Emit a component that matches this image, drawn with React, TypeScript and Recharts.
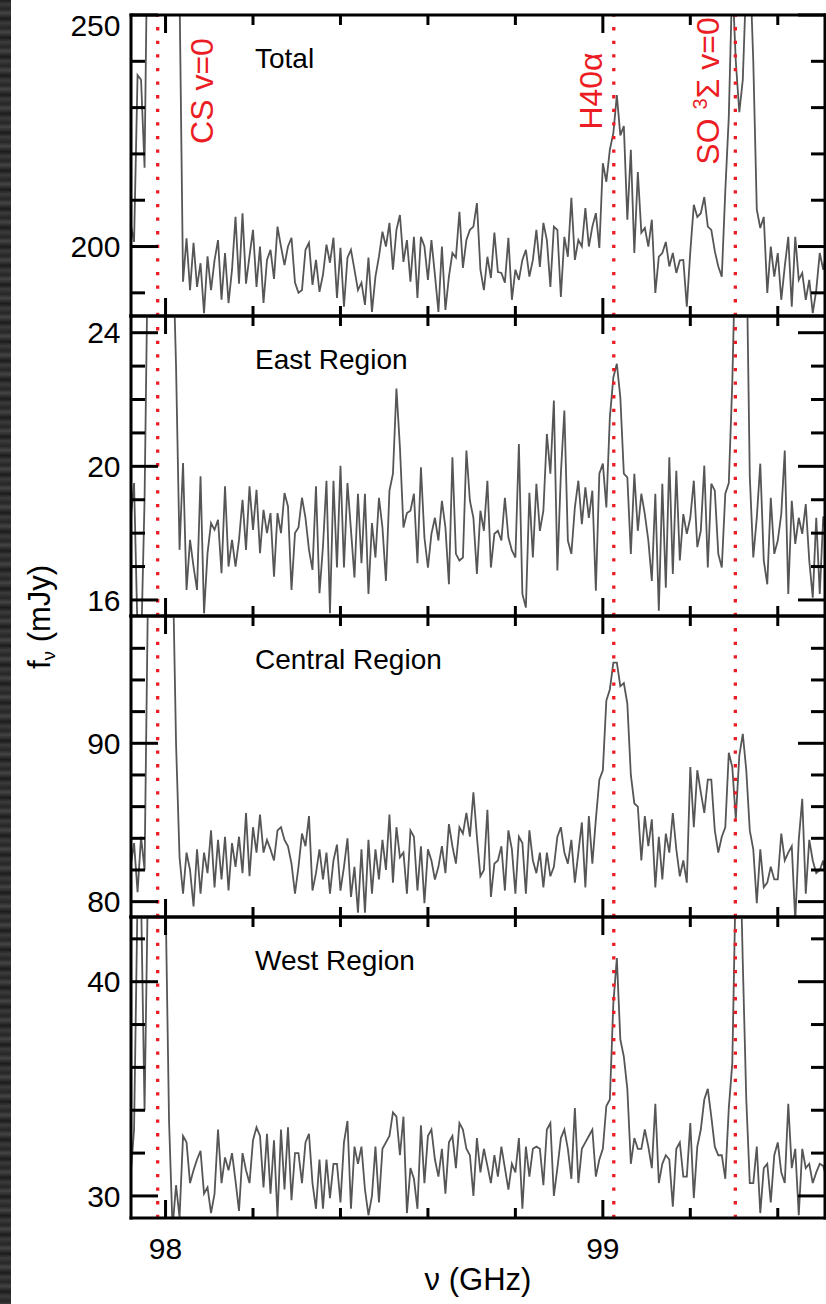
import React from 'react';
import { LineChart, Line, XAxis, YAxis, ReferenceLine } from 'recharts';

// Spectral channel grid (GHz)
const CHANNEL_START = 97.92;
const CHANNEL_WIDTH = 0.008;

// Flux density per channel (mJy)
const TOTAL = [
  205, 201, 237, 236, 217, 280, 300, 320, 330, 320,
  300, 290, 280, 265, 255, 192.4, 201.8, 190.6, 200.8, 191.3,
  196.4, 185.6, 197.9, 190.6, 197, 201.4, 188.5, 198.6, 187.8, 195,
  206.4, 192, 207.2, 192, 198, 203.6, 191.3, 200, 187.8, 197.1,
  199.3, 193, 204.3, 200, 196, 200, 201.9, 192.2, 190, 190.6,
  199.3, 200.8, 191.7, 197.1, 190.2, 193.9, 200.4, 196.5, 201.9, 188.9,
  199.7, 187, 197.6, 199.3, 195, 190.6, 192.2, 187.4, 197.6, 185.9,
  193.5, 197.8, 203.2, 200, 205.1, 195, 203.6, 206.8, 196.7, 201.4,
  192.4, 202.1, 188.9, 202.1, 200, 192.8, 201.4, 193.9, 185.9, 200,
  186.3, 193.5, 198.6, 197.6, 207.5, 195.4, 201.4, 203.6, 204.3, 209.4,
  195, 190.6, 197.8, 193.2, 203, 194.5, 194.3, 192.2, 201.9, 188.5,
  195, 192.8, 197.1, 199.3, 193.5, 197.1, 203.6, 195.6, 205.1, 201.4,
  191.3, 204.3, 203.6, 189.1, 202.1, 197.8, 210.5, 197.1, 201.4, 200,
  208.3, 200, 204.3, 207.2, 199.7, 218, 214, 220.9, 224.5, 232.7,
  224, 226, 205.8, 220.9, 198.6, 216.1, 203, 204, 200, 205.8,
  190, 197.8, 198.6, 201, 195.7, 198.6, 194.3, 197, 197.1, 187,
  198.9, 209, 206.4, 207.2, 210.7, 204.3, 203.6, 199, 195.7, 193.5,
  212, 228, 258, 240, 229, 236, 258, 262, 240, 208,
  204, 206.4, 190, 200, 193.5, 198.6, 188.5, 195.7, 202.1, 187,
  202.1, 192.8, 194.3, 188.5, 192.8, 185.6, 190.6, 198.6, 195, 199.3,
];

const EAST = [
  18.4, 19.5, 15.0, 14.5, 19, 27, 30, 32, 33, 32,
  30, 28, 27, 23, 17.5, 20.1, 16.3, 17.8, 17, 16.3,
  19.7, 15.6, 17.4, 18.3, 18.1, 18.4, 16.8, 19.4, 17, 17.8,
  17, 17.8, 19, 17.5, 19.4, 18.1, 19.3, 17.4, 18.7, 18,
  18.6, 16.7, 18.6, 18, 19.2, 18.8, 16.3, 18, 18.17, 19.06,
  18.46, 17.5, 16.9, 19.4, 16.2, 17.6, 19.57, 15.6, 19.57, 16.97,
  20.02, 16.97, 19.5, 18.1, 16.67, 19.18, 17.1, 19.18, 16.18, 18.3,
  17.27, 19.06, 18.17, 16.57, 19.27, 19.78, 22.33, 20.56, 18.17, 18.6,
  18.67, 19.18, 17.1, 19.97, 17.87, 16.97, 17.98, 18.46, 17.78, 18.97,
  18.17, 16.47, 20.27, 17.38, 17.18, 17.27, 20.47, 18.97, 18.46, 16.78,
  18.67, 18.07, 19.57, 16.97, 17.98, 18.07, 17.78, 19.06, 17.87, 17.48,
  17.27, 20.67, 16.18, 15.77, 19.21, 17.27, 19.48, 18.07, 18.67, 20.97,
  19.78, 21.97, 16.88, 19.78, 21.67, 17.78, 17.38, 18.77, 19.57, 18.27,
  19.37, 18.46, 19.27, 16.28, 19.78, 20.08, 18.77, 21.46, 22.66, 23.07,
  22.06, 19.78, 19.67, 17.38, 19.78, 18.07, 19.18, 18.57, 17.78, 16.57,
  19.18, 15.68, 19.48, 16.37, 20.27, 16.78, 19.87, 17.18, 18.57, 17.98,
  18.46, 19.57, 17.58, 18.07, 20.02, 16.97, 19.48, 19.27, 17.38, 16.97,
  19.18, 19.5, 22.5, 27, 30, 30, 27, 19.7, 17.27, 18.46,
  20.08, 17.18, 16.47, 19.06, 17.38, 17.78, 18.57, 20.47, 16.18, 18.97,
  17.68, 18.46, 17.98, 18.87, 17.18, 16.07, 18.46, 16.18, 18.5, 17.8,
];

const CENTRAL = [
  82.2, 83.7, 80.6, 84.1, 82, 100, 105, 108, 110, 108,
  106, 104, 102, 90, 82.8, 80.5, 83.1, 82, 79.7, 83.3,
  80.5, 83.1, 81.8, 84.5, 80.9, 83.9, 81.4, 84.1, 80.7, 83.7,
  82.2, 84.1, 81.8, 85.6, 81.6, 84.7, 83.1, 85.5, 83.1, 83.9,
  83.3, 82.6, 84.5, 84.7, 83.9, 83.5, 82.4, 80.5, 82.2, 84.3,
  83.5, 85.4, 80.7, 81.8, 83.3, 81.4, 83.1, 80.5, 82.6, 83.6,
  80.7, 82.2, 84, 80.3, 82.2, 79.3, 83.3, 79.3, 83.9, 80.5,
  83.3, 81.4, 83.9, 82, 85.5, 81.2, 84.7, 82.8, 83.1, 80.5,
  84.5, 84.1, 80.7, 83.5, 79.9, 83.3, 82.6, 81.4, 82.2, 83.5,
  81.8, 84.9, 83.5, 82.4, 84.7, 84.3, 85.6, 84.1, 86.9, 84.1,
  81.6, 82, 85.8, 80.3, 82.4, 82.6, 83.5, 80.7, 84.5, 83.3,
  80.5, 84.1, 83.7, 80.5, 84.5, 82.6, 81.8, 83.1, 80.9, 83.1,
  81.6, 82.2, 84.1, 84.7, 83.1, 82.4, 83.9, 81.2, 83.1, 85,
  80.9, 85.4, 82.4, 85.2, 87.7, 88.3, 92.7, 93.4, 95.1, 95.1,
  93.6, 93.8, 92.5, 88, 86.2, 86, 82.6, 85.4, 83.5, 85.2,
  80.9, 84.1, 81.4, 84.3, 83.1, 85.6, 83.3, 81.6, 82.6, 81.2,
  88.5, 84.7, 88.3, 86.9, 85.6, 87.7, 87.7, 84.5, 83.1, 84.1,
  84.7, 89.4, 88.5, 85.2, 89.2, 90.6, 88.3, 84.5, 83.3, 79.9,
  83.3, 80.9, 81.2, 82.2, 81.4, 81.4, 84.3, 82.6, 83.1, 83.5,
  78.8, 83.9, 86.5, 80.5, 83.9, 82.6, 81.8, 82, 82.6, 81,
];

const WEST = [
  30.9, 33.1, 44, 44, 34, 45, 50, 52, 52, 50,
  44, 33.5, 28.5, 30.5, 29, 32.8, 32.5, 30.6, 31.2, 31.7,
  32.1, 30.1, 30.4, 29.2, 30.1, 33.1, 30.6, 31.8, 31.2, 32,
  30.7, 29.3, 32, 31.2, 30.6, 32.6, 33.2, 32.8, 30.4, 32.9,
  30.1, 32.6, 29, 33.1, 30.3, 33.2, 29.8, 32, 32, 30.6,
  32.5, 32.9, 30.6, 29.4, 31.7, 29.4, 31.7, 29.9, 31.5, 31.5,
  29.7, 32.5, 33.5, 29.4, 32.3, 31.5, 32.3, 30.3, 29.1, 30,
  32.3, 29.7, 32.2, 32.5, 32.8, 33.9, 33.7, 31.9, 33.7, 29.2,
  31.3, 30.8, 29.4, 33.3, 30.6, 32.8, 33.1, 31.7, 30.9, 32.2,
  30.1, 32.5, 32.8, 31.3, 33.4, 33.1, 32.2, 31.9, 30, 32.7,
  31.1, 32.2, 31.4, 30.6, 31.9, 30.9, 32.3, 31.3, 30.3, 31.5,
  31.1, 32.7, 29.4, 32.3, 30.9, 32.2, 32.3, 32.2, 30.5, 33.1,
  33.4, 30, 31.3, 32.7, 33.1, 32.2, 30.8, 34.1, 30.6, 32.2,
  32.5, 32.8, 33.1, 30.9, 31.7, 32.2, 34.2, 34.5, 39, 41.1,
  37.3, 36.5, 35, 31.5, 32.7, 32.2, 32.2, 33.1, 32.3, 31.3,
  34.3, 30.6, 31.5, 31.9, 31.7, 29.5, 32.2, 32.5, 30.9, 30.9,
  33.4, 29.9, 32.3, 33.1, 34.5, 35, 33.7, 32.3, 31.9, 31.9,
  30.8, 34.1, 36.2, 45, 48, 40.9, 34.5, 30.6, 30.6, 32.3,
  29.2, 31.3, 31.5, 29.7, 31.9, 32.5, 31.1, 30.6, 34.3, 31.3,
  32.2, 29.1, 32.2, 31.3, 31.5, 30.6, 31.1, 31.5, 31.4, 30.8,
];

const FREQ = TOTAL.map((_, i) => +(CHANNEL_START + i * CHANNEL_WIDTH).toFixed(3));

const X_DOMAIN: [number, number] = [97.921, 99.508];
const X_MAJOR = [98, 99];
const X_MINOR = [98.2, 98.4, 98.6, 98.8, 99.2, 99.4];
const X_TICKS = [...X_MAJOR, ...X_MINOR].sort((a, b) => a - b);

// Line identifications (GHz)
const LINE_FREQS = [97.982, 99.025, 99.303];
const LINE_NAMES = ['CS v=0', 'H40α', 'SO 3Σ v=0'];

const PANEL_KEYS = ['total', 'east', 'central', 'west'];
const PANEL_LABELS = ['Total', 'East Region', 'Central Region', 'West Region'];
const PANEL_DOMAINS: [number, number][] = [[185, 250], [15.52, 24.5], [79.03, 98.04], [28.97, 43.02]];
const PANEL_MAJOR = [[200, 250], [16, 20, 24], [80, 90], [30, 40]];
const PANEL_MINOR = [[190, 210, 220, 230, 240], [17, 18, 19, 21, 22, 23], [82, 84, 86, 88, 92, 94, 96], [32, 34, 36, 38, 42]];

const DATA = FREQ.map((f, i) => ({
  f,
  total: TOTAL[i],
  east: EAST[i],
  central: CENTRAL[i],
  west: WEST[i],
}));

const FONT = '"Liberation Sans", Arial, Helvetica, sans-serif';
const RED = '#ec1c24';
const PANEL_TOP = [15, 316, 616, 917];
const PANEL_H = [301, 300, 301, 301];
const M_TOP = 40;
const M_BOTTOM = 60;

const LeftTick = (props: any) => {
  const { x, y, payload, majors, top } = props;
  const major = majors.includes(payload.value);
  const len = major ? 27 : 14;
  return (
    <g>
      <line x1={x} y1={y} x2={x + len} y2={y} stroke="#000" strokeWidth={3} />
      {major && (
        <text x={x - 10.5} y={payload.value === top ? y + 20.7 : y + 10.7} textAnchor="end" fontSize={30} fontFamily={FONT} fill="#000">
          {payload.value}
        </text>
      )}
    </g>
  );
};

const RightTick = (props: any) => {
  const { x, y, payload, majors } = props;
  const len = majors.includes(payload.value) ? 27 : 14;
  return <line x1={x} y1={y} x2={x - len} y2={y} stroke="#000" strokeWidth={3} />;
};

const TopTick = (props: any) => {
  const { x, y, payload } = props;
  const len = X_MAJOR.includes(payload.value) ? 18 : 10;
  return <line x1={x} y1={y} x2={x} y2={y + len} stroke="#000" strokeWidth={3} />;
};

const BottomTick = (props: any) => {
  const { x, y, payload, showLabel } = props;
  const major = X_MAJOR.includes(payload.value);
  const len = major ? 18 : 10;
  return (
    <g>
      <line x1={x} y1={y} x2={x} y2={y - len} stroke="#000" strokeWidth={3} />
      {showLabel && major && (
        <text x={x} y={y + 41} textAnchor="middle" fontSize={30} fontFamily={FONT} fill="#000">
          {payload.value}
        </text>
      )}
    </g>
  );
};

const RedLabel = (props: any) => {
  const { viewBox, which } = props;
  const vx = viewBox?.x ?? 0;
  const vy = viewBox?.y ?? 0;
  const dx = which === 0 ? 55 : which === 1 ? -12 : -16;
  const tx = vx + dx;
  const ty = vy + 76;
  return (
    <text transform={`translate(${tx}, ${ty}) rotate(-90)`} textAnchor="middle" fontSize={32} fontFamily={FONT} fill={RED}>
      {which === 2 ? (
        <>
          <tspan>SO </tspan>
          <tspan fontSize={20} dy={-12}>3</tspan>
          <tspan dy={12}>Σ v=0</tspan>
        </>
      ) : (
        LINE_NAMES[which]
      )}
    </text>
  );
};

const axisLineStyle = { stroke: '#000', strokeWidth: 3, strokeLinecap: 'square' as const };

function Panel({ idx }: { idx: number }) {
  const domain = PANEL_DOMAINS[idx];
  const majors = PANEL_MAJOR[idx];
  const yTicks = [...PANEL_MAJOR[idx], ...PANEL_MINOR[idx]].sort((a, b) => a - b);
  const isLast = idx === 3;
  return (
    <div style={{ position: 'absolute', left: 0, top: PANEL_TOP[idx] - M_TOP }}>
      <LineChart
        width={826}
        height={PANEL_H[idx] + M_TOP + M_BOTTOM}
        data={DATA}
        margin={{ top: M_TOP - 1, right: 0, bottom: M_BOTTOM - 1, left: 130 }}
      >
        <XAxis
          dataKey="f"
          type="number"
          domain={X_DOMAIN}
          allowDataOverflow
          ticks={X_TICKS}
          interval={0}
          height={1}
          tickSize={0}
          tickMargin={0}
          tickLine={false}
          axisLine={axisLineStyle}
          tick={(p: any) => <BottomTick {...p} showLabel={isLast} />}
        />
        <XAxis
          xAxisId="top"
          orientation="top"
          dataKey="f"
          type="number"
          domain={X_DOMAIN}
          allowDataOverflow
          ticks={X_TICKS}
          interval={0}
          height={1}
          tickSize={0}
          tickMargin={0}
          tickLine={false}
          axisLine={axisLineStyle}
          tick={(p: any) => <TopTick {...p} />}
        />
        <YAxis
          type="number"
          domain={domain}
          allowDataOverflow
          ticks={yTicks}
          interval={0}
          width={1}
          tickSize={0}
          tickMargin={0}
          tickLine={false}
          axisLine={axisLineStyle}
          tick={(p: any) => <LeftTick {...p} majors={majors} top={domain[1]} />}
        />
        <YAxis
          yAxisId="right"
          orientation="right"
          type="number"
          domain={domain}
          allowDataOverflow
          ticks={yTicks}
          interval={0}
          width={1}
          tickSize={0}
          tickMargin={0}
          tickLine={false}
          axisLine={axisLineStyle}
          tick={(p: any) => <RightTick {...p} majors={majors} />}
        />
        <Line
          dataKey={PANEL_KEYS[idx]}
          type="linear"
          stroke="#565656"
          strokeWidth={1.8}
          dot={false}
          activeDot={false}
          isAnimationActive={false}
        />
        {LINE_FREQS.map((lf, j) => (
          <ReferenceLine
            key={j}
            x={lf}
            stroke={RED}
            strokeWidth={3.3}
            strokeDasharray="3.3 10.3"
            label={idx === 0 ? (p: any) => <RedLabel {...p} which={j} /> : undefined}
          />
        ))}
      </LineChart>
    </div>
  );
}

export default function App() {
  return (
    <div style={{ position: 'absolute', left: 0, top: 0, width: 826, height: 1304, background: '#fff', overflow: 'hidden' }}>
      <div
        style={{
          position: 'absolute',
          left: 0,
          top: 0,
          width: 11,
          height: 1304,
          background:
            'repeating-linear-gradient(180deg, #1e1e1e 0px, #3b3b3b 4px, #262626 9px, #444 13px, #1a1a1a 19px)',
        }}
      />
      {PANEL_KEYS.map((k, i) => (
        <Panel key={k} idx={i} />
      ))}
      <svg width={826} height={1304} style={{ position: 'absolute', left: 0, top: 0, pointerEvents: 'none' }}>
        {PANEL_LABELS.map((lab, i) => (
          <text key={lab} x={255} y={PANEL_TOP[i] + 53} fontSize={28} fontFamily={FONT} fill="#000">
            {lab}
          </text>
        ))}
        <text x={478} y={1290} textAnchor="middle" fontSize={31} fontFamily={FONT} fill="#000">
          ν (GHz)
        </text>
        <text transform="translate(50, 617) rotate(-90)" textAnchor="middle" fontSize={31} fontFamily={FONT} fill="#000">
          f<tspan fontSize={19} dy={5}>ν</tspan>
          <tspan dy={-5}> (mJy)</tspan>
        </text>
      </svg>
    </div>
  );
}
